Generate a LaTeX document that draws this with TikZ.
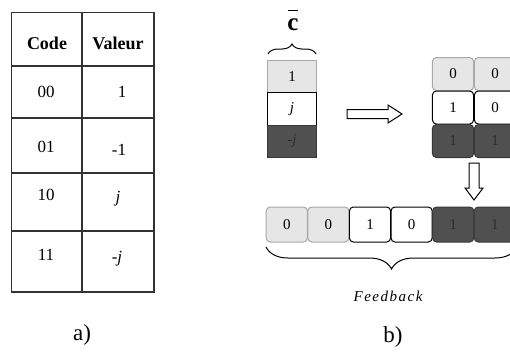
\documentclass[tikz,border=0pt]{standalone}
\usepackage{fontspec}
\setmainfont{Liberation Serif}
\usetikzlibrary{decorations.pathreplacing}
\definecolor{lg}{HTML}{E6E6E6}
\definecolor{lgb}{HTML}{A8A8A8}
\definecolor{dk}{HTML}{505050}
\definecolor{dkb}{HTML}{383838}
\definecolor{dkt}{HTML}{2E2E2E}
\definecolor{tl}{HTML}{333333}
\begin{document}
\begin{tikzpicture}[x=1pt,y=-1pt,
  tline/.style={draw=tl,line width=1.3pt},
  hdr/.style={font=\fontsize{18}{21}\selectfont\bfseries,inner sep=0pt},
  ent/.style={font=\fontsize{17}{20}\selectfont,inner sep=0pt},
  sqcell/.style={minimum width=49pt,minimum height=32.7pt,inner sep=0pt,line width=1pt,font=\fontsize{15}{17}\selectfont},
  rcell/.style={rounded corners=4pt,minimum width=41.2pt,minimum height=33pt,inner sep=0pt,line width=1pt,font=\fontsize{15}{17}\selectfont},
  light/.style={fill=lg,draw=lgb},
  white/.style={fill=white,draw=black},
  dark/.style={fill=dk,draw=dkb,text=dkt},
  harrow/.style={draw=black,fill=white,line width=1pt,line join=miter},
  lbl/.style={font=\fontsize{23}{26}\selectfont,inner sep=0pt}]
\useasboundingbox (0,0) rectangle (510,354);
% ---- table a)
\draw[tline] (11.7,12.7) rectangle (154,292);
\draw[tline] (82,12.7) -- (82,292);
\foreach \y in {66,118,173,231} \draw[tline] (11.7,\y) -- (154,\y);
\node[hdr] (hcode) at (47,43) {Code};
\node[hdr] (hval) at (118,43) {Valeur};
\node[ent] (k1) at (46,92) {00};
\node[ent] (v1) at (122,92) {1};
\node[ent] (k2) at (46,147) {01};
\node[ent] (v2) at (119,150) {-1};
\node[ent] (k3) at (46,195) {10};
\node[ent] (v3) at (118,199) {\itshape j};
\node[ent] (k4) at (46,255) {11};
\node[ent] (v4) at (117,259) {\itshape -j};
\node[lbl] (la) at (82,335) {a)};
% ---- column c bar
\node[font=\fontsize{25}{28}\selectfont\bfseries,inner sep=0pt] (cc) at (293,25) {c};
\draw[line width=1.4pt] (288,10.5) -- (298,10.5);
\draw[line width=1pt,decorate,decoration={brace,amplitude=10pt}] (268,54) -- (316,54);
\node[sqcell,light] (s1) at (292,76.5) {1};
\node[sqcell,white] (s2) at (292,109) {\itshape j};
\node[sqcell,dark] (s3) at (292,141.5) {\itshape -j};
% ---- right arrow
\draw[harrow] (347,109.5) -- (388,109.5) -- (388,105) -- (402,114) -- (388,123) -- (388,118.5) -- (347,118.5) -- cycle;
% ---- grid
\node[rcell,light] (g11) at (453,74) {0};
\node[rcell,light] (g12) at (495,74) {0};
\node[rcell,white] (g21) at (453,107.5) {1};
\node[rcell,white] (g22) at (495,107.5) {0};
\node[rcell,dark] (g31) at (453,141) {1};
\node[rcell,dark] (g32) at (495,141) {1};
% ---- down arrow
\draw[harrow] (469,163) -- (479,163) -- (479,188) -- (483,188) -- (474,200) -- (465,188) -- (469,188) -- cycle;
% ---- bottom row
\node[rcell,light,minimum height=35pt] (b1) at (286.8,224.5) {0};
\node[rcell,light,minimum height=35pt] (b2) at (328.4,224.5) {0};
\node[rcell,white,minimum height=35pt] (b3) at (370,224.5) {1};
\node[rcell,white,minimum height=35pt] (b4) at (411.6,224.5) {0};
\node[rcell,dark,minimum height=35pt] (b5) at (453.2,224.5) {1};
\node[rcell,dark,minimum height=35pt] (b6) at (494.8,224.5) {1};
\draw[line width=1pt,decorate,decoration={brace,mirror,amplitude=22pt}] (266,247) -- (517,247);
\node[font=\fontsize{15}{17}\selectfont\itshape\addfontfeature{LetterSpace=10},inner sep=0pt] (fb) at (388,296) {Feedback};
\node[lbl] (lb) at (393,337) {b)};
\end{tikzpicture}
\end{document}
